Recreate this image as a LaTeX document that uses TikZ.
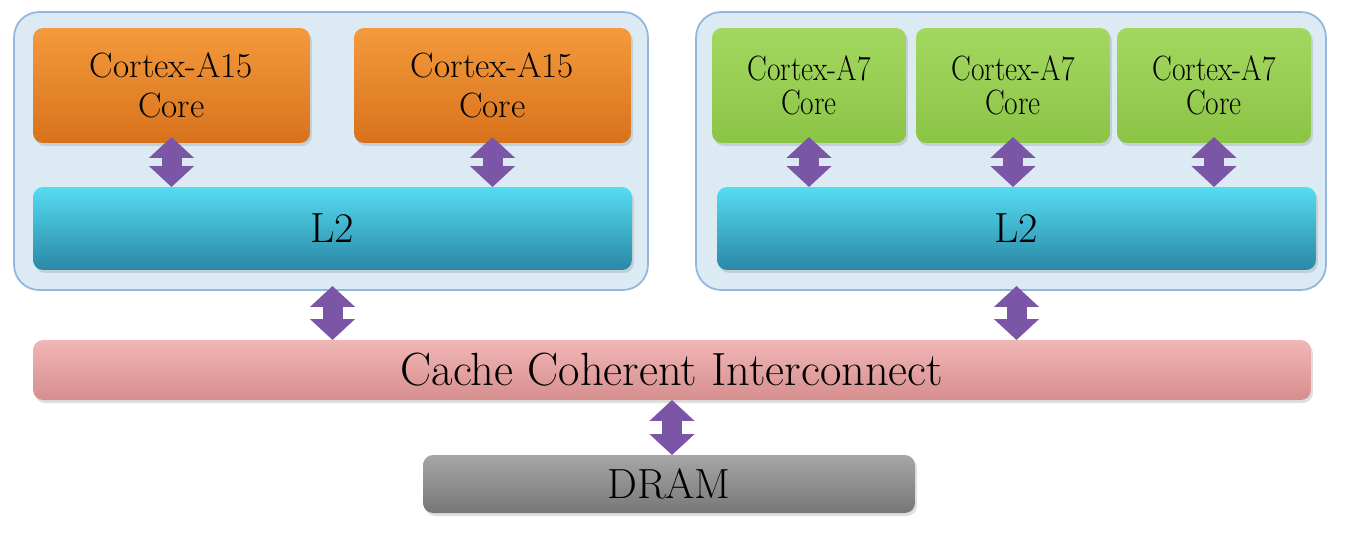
\documentclass[tikz,border=0pt]{standalone}
\usetikzlibrary{arrows.meta,shadows}
\definecolor{clusterfill}{HTML}{DCEBF3}
\definecolor{clusterline}{HTML}{93B6DE}
\definecolor{arrowpurple}{HTML}{7B56A6}
\definecolor{orangetop}{HTML}{F49A3C}
\definecolor{orangebot}{HTML}{D8721C}
\definecolor{greentop}{HTML}{A3D860}
\definecolor{greenbot}{HTML}{8CC446}
\definecolor{ltwotop}{HTML}{55DCF2}
\definecolor{ltwobot}{HTML}{2A88A6}
\definecolor{ccitop}{HTML}{F1B6B6}
\definecolor{ccibot}{HTML}{D68E8E}
\definecolor{dramtop}{HTML}{A6A6A6}
\definecolor{drambot}{HTML}{777777}
\newcommand{\bigfont}{\fontsize{20}{22.5}\selectfont}
\newcommand{\littlefont}{\fontsize{20}{19.5}\selectfont}
\newcommand{\condensed}[1]{\scalebox{0.84}[1]{#1}}
\newcommand{\barfont}{\fontsize{24}{28}\selectfont}
\newcommand{\bigcorewidth}{5.54cm}
\newcommand{\littlecorewidth}{3.88cm}
\newcommand{\coreheight}{2.3cm}
\newcommand{\coreypos}{85.5}
\newcommand{\ltwoheight}{1.66cm}
\newcommand{\ltwoypos}{228.5}

\begin{document}
\begin{tikzpicture}[x=0.02cm,y=-0.02cm]
\tikzstyle{cluster}=[draw=clusterline,fill=clusterfill,rounded corners=0.5cm,line width=1pt,minimum height=5.56cm]
\tikzstyle{box}=[rounded corners=0.2cm,inner sep=0pt,outer sep=0pt,align=center,drop shadow={opacity=0.25,shadow xshift=0.04cm,shadow yshift=-0.06cm}]
\tikzstyle{bigcore}=[box,top color=orangetop,bottom color=orangebot,minimum width=\bigcorewidth,minimum height=\coreheight,font=\bigfont]
\tikzstyle{littlecore}=[box,top color=greentop,bottom color=greenbot,minimum width=\littlecorewidth,minimum height=\coreheight,font=\littlefont]
\tikzstyle{ltwo}=[box,top color=ltwotop,bottom color=ltwobot,minimum width=11.98cm,minimum height=\ltwoheight,font=\barfont]
\tikzstyle{biarrow}=[line width=0.4cm,draw=arrowpurple,{Triangle[width=0.88cm,length=0.42cm]}-{Triangle[width=0.88cm,length=0.42cm]}]

\useasboundingbox (0,0) rectangle (1352,538);

% clusters
\node(bigclus) [cluster,minimum width=12.68cm] at (331,151) {};
\node(littleclus) [cluster,minimum width=12.6cm] at (1011,151) {};

% cores
\node(A15one) [bigcore] at (171.5,\coreypos) {Cortex-A15\\Core};
\node(A15two) [bigcore] at (492.5,\coreypos) {Cortex-A15\\Core};
\node(A7one) [littlecore] at (809,\coreypos) {\condensed{Cortex-A7}\\\condensed{Core}};
\node(A7two) [littlecore] at (1013,\coreypos) {\condensed{Cortex-A7}\\\condensed{Core}};
\node(A7three) [littlecore] at (1214,\coreypos) {\condensed{Cortex-A7}\\\condensed{Core}};

% L2 caches
\node(Ltwoleft) [ltwo] at (332.5,\ltwoypos) {L2};
\node(Ltworight) [ltwo] at (1016.5,\ltwoypos) {L2};

\node(CCI) [box,top color=ccitop,bottom color=ccibot,minimum width=25.56cm,minimum height=1.2cm,font=\fontsize{26.5}{30}\selectfont] at (672,370) {Cache Coherent Interconnect};
\node(DRAM) [box,top color=dramtop,bottom color=drambot,minimum width=9.84cm,minimum height=1.16cm,font=\barfont] at (669,484) {DRAM};

% core <-> L2
\draw[biarrow,shorten <=-0.12cm] (A15one.south) -- (A15one.south |- Ltwoleft.north);
\draw[biarrow,shorten <=-0.12cm] (A15two.south) -- (A15two.south |- Ltwoleft.north);
\draw[biarrow,shorten <=-0.12cm] (A7one.south) -- (A7one.south |- Ltworight.north);
\draw[biarrow,shorten <=-0.12cm] (A7two.south) -- (A7two.south |- Ltworight.north);
\draw[biarrow,shorten <=-0.12cm] (A7three.south) -- (A7three.south |- Ltworight.north);

% L2 <-> interconnect <-> DRAM
\draw[biarrow,shorten <=0.32cm] (Ltwoleft.south) -- (Ltwoleft.south |- CCI.north);
\draw[biarrow,shorten <=0.32cm] (Ltworight.south) -- (Ltworight.south |- CCI.north);
\draw[biarrow] (CCI.south) -- (CCI.south |- DRAM.north);

\end{tikzpicture}
\end{document}
